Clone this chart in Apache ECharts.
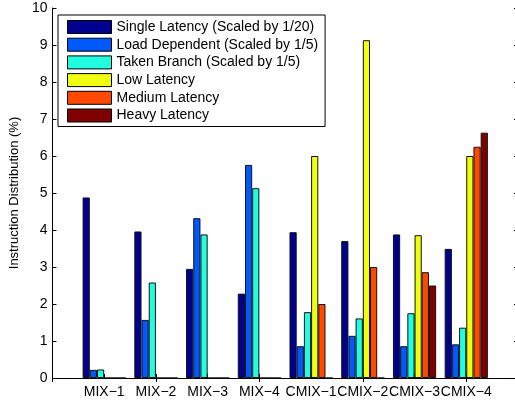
<!DOCTYPE html>
<html>
<head>
<meta charset="utf-8">
<script src="https://cdn.jsdelivr.net/npm/echarts@6/dist/echarts.min.js"></script>
<style>
  html, body { margin: 0; padding: 0; background: #fff; overflow: hidden; }
  /* the plot box runs slightly past the right edge of the window */
  #chart { width: 522px; height: 405px; }
</style>
</head>
<body>
<div id="chart"></div>
<script>
// Workload mixes on the x axis
const categories = ['MIX\u22121', 'MIX\u22122', 'MIX\u22123', 'MIX\u22124',
                    'CMIX\u22121', 'CMIX\u22122', 'CMIX\u22123', 'CMIX\u22124'];

// Instruction distribution (%) per instruction class
const singleLatency  = [4.88, 3.96, 2.95, 2.28, 3.94, 3.70, 3.88, 3.49];
const loadDependent  = [0.22, 1.57, 4.32, 5.76, 0.86, 1.14, 0.86, 0.91];
const takenBranch    = [0.23, 2.58, 3.88, 5.13, 1.78, 1.61, 1.75, 1.36];
const lowLatency     = [0, 0, 0, 0, 6.00, 9.13, 3.86, 6.00];
const mediumLatency  = [0, 0, 0, 0, 2.00, 3.00, 2.86, 6.25];
const heavyLatency   = [0, 0, 0, 0, 0, 0, 2.50, 6.63];

const yTicks = [0, 1, 2, 3, 4, 5, 6, 7, 8, 9, 10];

const seriesDefs = [
  { name: 'Single Latency (Scaled by 1/20)', values: singleLatency, color: '#00008F' },
  { name: 'Load Dependent (Scaled by 1/5)',  values: loadDependent, color: '#0058FF' },
  { name: 'Taken Branch (Scaled by 1/5)',    values: takenBranch,   color: '#20FFDF' },
  { name: 'Low Latency',                     values: lowLatency,    color: '#F0FF10' },
  { name: 'Medium Latency',                  values: mediumLatency, color: '#FF4800' },
  { name: 'Heavy Latency',                   values: heavyLatency,  color: '#800000' }
];

// Axis runs from 0 to 9 with the groups sitting on 1..8
const axisData = [''].concat(categories, ['']);

const font = 'Liberation Sans, Arial, Helvetica, sans-serif';

const chart = echarts.init(document.getElementById('chart'), null, { renderer: 'canvas' });

const baseX = {
  type: 'category',
  data: axisData,
  boundaryGap: false,
  axisLine: { show: true, lineStyle: { color: '#000', width: 1 } },
  axisTick: { show: true, inside: true, length: 4, lineStyle: { color: '#000' } },
  splitLine: { show: false }
};

chart.setOption({
  animation: false,
  backgroundColor: '#fff',
  grid: { left: 49, top: 8, width: 469, height: 370, containLabel: false },
  legend: {
    orient: 'vertical',
    left: 58,
    top: 15,
    padding: [5, 7, 4, 9],
    itemGap: 3.7,
    itemWidth: 44,
    itemHeight: 13,
    borderColor: '#000',
    borderWidth: 1,
    backgroundColor: '#fff',
    icon: 'rect',
    itemStyle: { borderColor: '#000', borderWidth: 1 },
    textStyle: { fontFamily: font, fontSize: 14, color: '#000', lineHeight: 14 },
    data: seriesDefs.map(s => s.name)
  },
  xAxis: [
    Object.assign({}, baseX, {
      position: 'bottom',
      axisLabel: { show: true, fontFamily: font, fontSize: 14, color: '#000', margin: 7, interval: 0 }
    }),
    Object.assign({}, baseX, {
      position: 'top',
      axisLabel: { show: false }
    })
  ],
  yAxis: [
    {
      type: 'value',
      min: yTicks[0],
      max: yTicks[yTicks.length - 1],
      interval: 1,
      position: 'left',
      name: 'Instruction Distribution (%)',
      nameLocation: 'middle',
      nameGap: 29,
      nameTextStyle: { fontFamily: font, fontSize: 13, color: '#000' },
      axisLine: { show: true, lineStyle: { color: '#000', width: 1 } },
      axisTick: { show: true, inside: true, length: 4, lineStyle: { color: '#000' } },
      axisLabel: { fontFamily: font, fontSize: 14, color: '#000', margin: 5 },
      splitLine: { show: false }
    },
    {
      type: 'value',
      min: yTicks[0],
      max: yTicks[yTicks.length - 1],
      interval: 1,
      position: 'right',
      axisLine: { show: true, lineStyle: { color: '#000', width: 1 } },
      axisTick: { show: true, inside: true, length: 4, lineStyle: { color: '#000' } },
      axisLabel: { show: false },
      splitLine: { show: false }
    }
  ],
  series: seriesDefs.map(s => ({
    name: s.name,
    type: 'bar',
    xAxisIndex: 0,
    yAxisIndex: 0,
    barGap: '0%',
    barWidth: 7.2,
    data: [null].concat(s.values, [null]),
    itemStyle: { color: s.color, borderColor: '#111', borderWidth: 1 },
    emphasis: { disabled: true }
  }))
});
</script>
</body>
</html>
